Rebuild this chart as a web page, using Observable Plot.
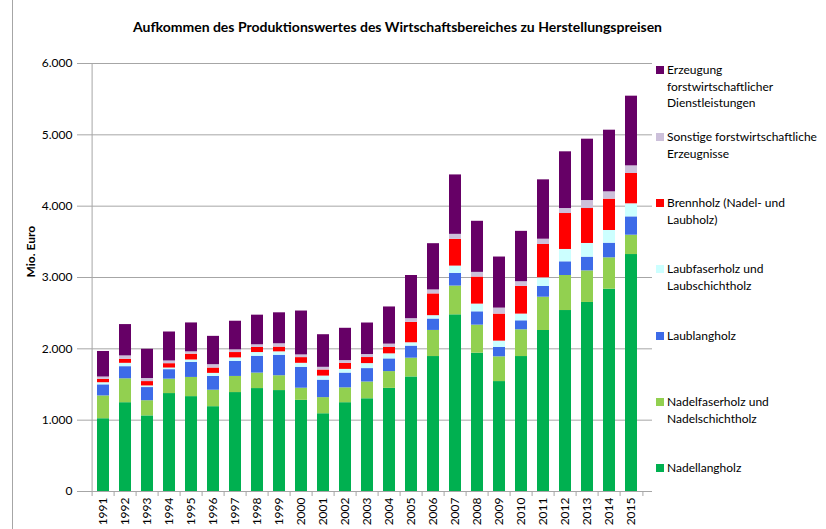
<!DOCTYPE html>
<html><head><meta charset="utf-8">
<script src="https://cdn.jsdelivr.net/npm/d3@7"></script>
<script src="https://cdn.jsdelivr.net/npm/@observablehq/plot@0.6"></script>
<style>
body{margin:0;background:#fff;}
#wrap{position:relative;width:826px;height:529px;overflow:hidden;font-family:Lato,sans-serif;}
#frameline{position:absolute;left:12px;top:0;width:0;height:529px;border-left:1px solid #a6a6a6;}
.leg{position:absolute;left:656px;font-size:12px;line-height:16.5px;color:#000;white-space:nowrap;}
.leg .sw{position:absolute;left:0;top:4px;width:8px;height:8px;}
.leg .tx{margin-left:11px;}
</style>
</head><body>
<div id="wrap"><div id="frameline"></div></div>
<script>
const years = ["1991","1992","1993","1994","1995","1996","1997","1998","1999","2000","2001","2002","2003","2004","2005","2006","2007","2008","2009","2010","2011","2012","2013","2014","2015"];
const seriesNames = ["Nadellangholz","Nadelfaserholz und Nadelschichtholz","Laublangholz","Laubfaserholz und Laubschichtholz","Brennholz (Nadel- und Laubholz)","Sonstige forstwirtschaftliche Erzeugnisse","Erzeugung forstwirtschaftlicher Dienstleistungen"];
const seriesColors = ["#00B050","#92D050","#3D6BE8","#CCFFFF","#FF0000","#CCC0DA","#660066"];
const nadellang = [1020,1245,1060,1373,1330,1189,1387,1443,1415,1278,1090,1245,1300,1446,1606,1892,2477,1939,1541,1892,2257,2537,2650,2836,3322];
const nadelfaser = [320,335,213,202,269,231,226,217,208,170,226,208,235,235,263,366,403,393,347,375,467,491,443,440,271];
const laublang = [155,170,184,133,212,193,212,236,287,293,245,207,188,178,169,160,178,187,131,126,150,192,192,205,257];
const laubfaser = [30,47,23,23,33,43,48,52,48,56,57,52,70,71,47,47,102,108,89,94,121,173,192,178,183];
const brennholz = [47,57,61,61,81,75,75,71,66,80,85,85,85,89,286,305,375,379,379,388,468,504,490,439,425];
const sonstige = [33,47,43,38,33,47,38,38,47,38,38,38,42,47,52,56,70,66,84,66,74,70,112,103,107];
const dienstleistungen = [358,439,410,406,405,397,401,415,434,615,457,453,442,521,605,648,833,716,716,706,832,795,860,864,977];
const yTicks = [0,1000,2000,3000,4000,5000,6000];
const legendLines = [
  ["Erzeugung","forstwirtschaftlicher","Dienstleistungen"],
  ["Sonstige forstwirtschaftliche","Erzeugnisse"],
  ["Brennholz (Nadel- und","Laubholz)"],
  ["Laubfaserholz und","Laubschichtholz"],
  ["Laublangholz"],
  ["Nadelfaserholz und","Nadelschichtholz"],
  ["Nadellangholz"]
];
const legendOrder = [6,5,4,3,2,1,0];
const legendTop = [62,129,195,261,328,394,460];
const title = "Aufkommen des Produktionswertes des Wirtschaftsbereiches zu Herstellungspreisen";
const yLabel = "Mio. Euro";

const seriesValues = [nadellang,nadelfaser,laublang,laubfaser,brennholz,sonstige,dienstleistungen];
const table = [];
seriesNames.forEach((s, si) => years.forEach((y, i) => table.push({year: y, series: s, value: seriesValues[si][i]})));

const de = d3.formatLocale({decimal: ",", thousands: ".", grouping: [3], currency: ["", " €"]});
const fmt = de.format(",");

const W = 826, H = 529, mL = 82, mR = 174, mT = 63, mB = 38;
const step = (W - mL - mR) / years.length;
const grid = "#a6a6a6";

const chart = Plot.plot({
  width: W, height: H,
  marginLeft: mL, marginRight: mR, marginTop: mT, marginBottom: mB,
  style: {fontFamily: "Lato, sans-serif", fontSize: "12px", color: "#000", background: "transparent", overflow: "visible"},
  x: {type: "band", domain: years, paddingInner: 0.47, paddingOuter: 0.235, label: null},
  y: {domain: [0, 6000], label: null},
  color: {domain: seriesNames, range: seriesColors},
  marks: [
    Plot.ruleY(yTicks, {stroke: grid, strokeWidth: 1}),
    Plot.ruleX([years[0]], {y1: 0, y2: 6000, dx: -step / 2, stroke: grid}),
    Plot.ruleX(years, {y1: 0, y2: 0, dx: -step / 2, insetBottom: -5, stroke: grid}),
    Plot.ruleX([years[years.length - 1]], {y1: 0, y2: 0, dx: step / 2, insetBottom: -5, stroke: grid}),
    Plot.barY(table, {x: "year", y: "value", fill: "series", order: seriesNames}),
    Plot.axisY({ticks: yTicks, tickFormat: fmt, tickSize: 5, tickPadding: 5, stroke: grid, fill: "#000", label: null, fontSize: 12}),
    Plot.axisX({tickRotate: -90, tickSize: 0, tickPadding: 6, label: null, fontSize: 12}),
    Plot.text([yLabel], {frameAnchor: "left", rotate: -90, dx: -51, fontWeight: "bold", fontSize: 12, fill: "#000"}),
    Plot.text([title], {frameAnchor: "top", dy: -41, dx: 30, fontWeight: "bold", fontSize: 14, fill: "#000"})
  ]
});
const wrap = document.getElementById("wrap");
wrap.appendChild(chart);
chart.style.position = "absolute"; chart.style.left = "0"; chart.style.top = "0";

legendOrder.forEach((si, k) => {
  const d = document.createElement("div");
  d.className = "leg";
  d.style.top = legendTop[k] + "px";
  const sw = document.createElement("span");
  sw.className = "sw"; sw.style.background = seriesColors[si];
  if (seriesColors[si] === "#CCFFFF") sw.style.background = "#CCFFFF";
  d.appendChild(sw);
  const tx = document.createElement("div");
  tx.className = "tx";
  tx.innerHTML = legendLines[k].join("<br>");
  d.appendChild(tx);
  wrap.appendChild(d);
});
</script>
</body></html>
